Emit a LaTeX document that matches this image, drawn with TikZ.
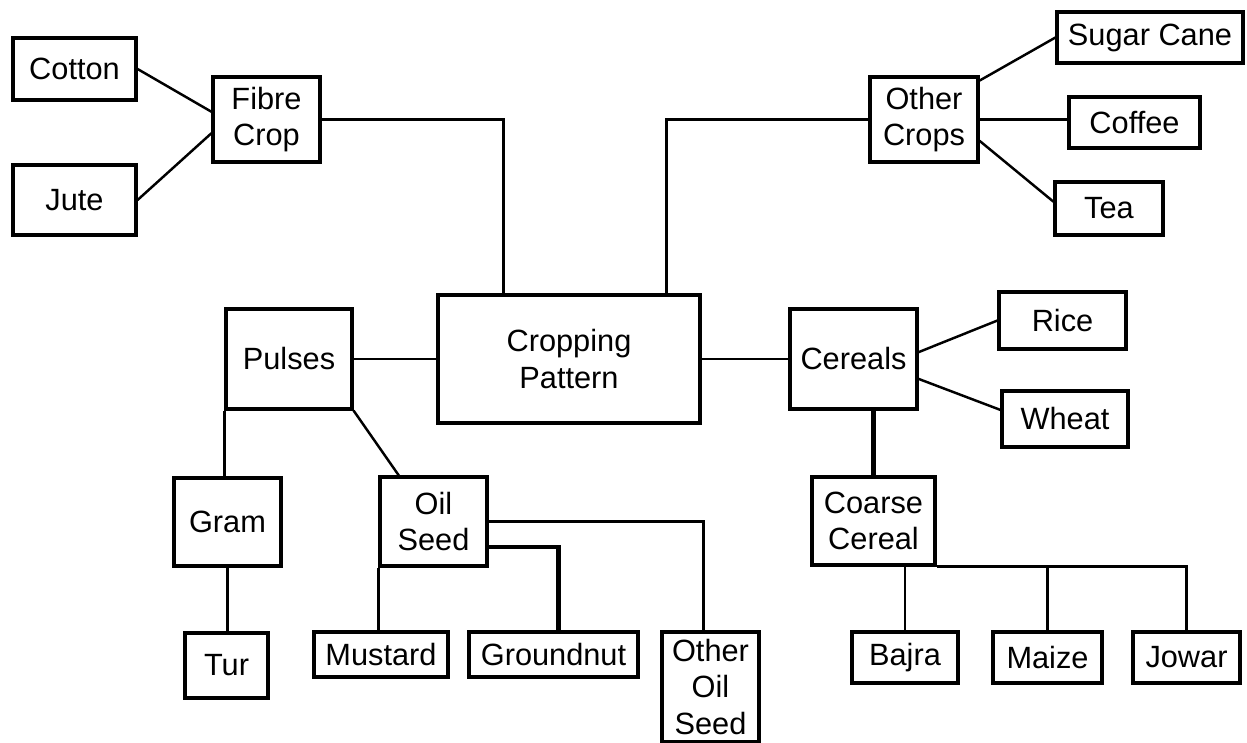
\documentclass[tikz,border=0pt]{standalone}
\usepackage{fontspec}
\setmainfont{Liberation Sans}
\usetikzlibrary{calc}

\tikzset{
  crop/.style={draw, line width=1.8pt, inner sep=0pt, align=center,
    font=\fontsize{17.5}{20.5}\selectfont},
  link/.style={line width=1.4pt},
  heavylink/.style={line width=2.4pt}
}

\begin{document}
\begin{tikzpicture}[x=0.02cm, y=-0.02cm]
\useasboundingbox (0,0) rectangle (1247,743);
% centre box and the two big groups on top
\node (cropping) [crop, minimum width=5.24cm, minimum height=2.56cm] at (569,359) {Cropping\\Pattern};
\node (fibre) [crop, minimum width=2.14cm, minimum height=1.70cm] at (266.5,119.5) {Fibre\\Crop};
\node (cotton) [crop, minimum width=2.46cm, minimum height=1.24cm] at (74.5,69) {Cotton};
\node (jute) [crop, minimum width=2.46cm, minimum height=1.40cm] at (74.5,200) {Jute};
\node (othercrops) [crop, minimum width=2.16cm, minimum height=1.70cm] at (924,119.5) {Other\\Crops};
\node (sugarcane) [crop, minimum width=3.72cm, minimum height=1.02cm] at (1150,37.5) {Sugar Cane};
\node (coffee) [crop, minimum width=2.62cm, minimum height=1.02cm] at (1134.5,122.5) {Coffee};
\node (tea) [crop, minimum width=2.16cm, minimum height=1.06cm] at (1109,208.5) {Tea};
% pulses side
\node (pulses) [crop, minimum width=2.52cm, minimum height=2.00cm] at (289,359) {Pulses};
\node (gram) [crop, minimum width=2.14cm, minimum height=1.76cm] at (227.5,522) {Gram};
\node (tur) [crop, minimum width=1.66cm, minimum height=1.30cm] at (226.5,665.5) {Tur};
\node (oilseed) [crop, minimum width=2.14cm, minimum height=1.78cm] at (433.5,521.5) {Oil\\Seed};
\node (mustard) [crop, minimum width=2.68cm, minimum height=0.90cm] at (381,654.5) {Mustard};
\node (groundnut) [crop, minimum width=3.38cm, minimum height=0.90cm] at (553.5,654.5) {Groundnut};
\node (otheroil) [crop, minimum width=1.94cm, minimum height=2.20cm] at (710.5,687) {Other\\Oil\\Seed};
% cereals side
\node (cereals) [crop, minimum width=2.54cm, minimum height=2.00cm] at (853.5,359) {Cereals};
\node (rice) [crop, minimum width=2.54cm, minimum height=1.14cm] at (1062.5,320.5) {Rice};
\node (wheat) [crop, minimum width=2.52cm, minimum height=1.12cm] at (1065,419) {Wheat};
\node (coarse) [crop, minimum width=2.46cm, minimum height=1.76cm] at (873.5,521) {Coarse\\Cereal};
\node (bajra) [crop, minimum width=2.12cm, minimum height=1.02cm] at (905,657.5) {Bajra};
\node (maize) [crop, minimum width=2.18cm, minimum height=1.02cm] at (1047.5,657.5) {Maize};
\node (jowar) [crop, minimum width=2.14cm, minimum height=1.02cm] at (1186.5,657.5) {Jowar};

\coordinate (cropL) at ($(cropping.north west)+(67,0)$);
\coordinate (cropR) at ($(cropping.north west)+(230,0)$);

\begin{scope}[link]
\draw (cotton.east) -- (fibre.172);
\draw (jute.east) -- (fibre.194);
\draw (fibre.east) -| (cropL);
\draw (othercrops.west) -| (cropR);
\draw (othercrops.35) -- (sugarcane.west);
\draw (othercrops.east) -- (othercrops.east -| coffee.west);
\draw (othercrops.339) -- (tea.173);
\draw (pulses.east) -- (cropping.west);
\draw (cropping.east) -- (cereals.west);
\draw (cereals.6) -- (rice.west);
\draw (cereals.343) -- (wheat.172);
\draw [heavylink] (coarse.north) -- (coarse.north |- cereals.south);
\draw (pulses.south west) -- (pulses.south west |- gram.north);
\draw (gram.south) -- (gram.south |- tur.north);
\draw (pulses.south east) -- (oilseed.127);
\draw (oilseed.south west) -- (oilseed.south west |- mustard.north);
\draw [heavylink] (oilseed.335) -| ($(groundnut.north)+(5,0)$);
\draw (oilseed.east) -| ($(otheroil.north)+(-7,0)$);
\draw (coarse.south east) -| (jowar.north);
\draw (bajra.north) -- (bajra.north |- coarse.south);
\draw (maize.north) -- (maize.north |- coarse.south);
\end{scope}
\end{tikzpicture}
\end{document}
